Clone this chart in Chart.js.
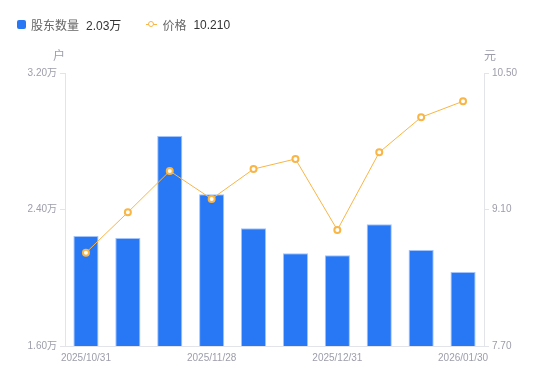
<!DOCTYPE html>
<html lang="zh">
<head>
<meta charset="UTF-8">
<title>股东数量</title>
<script src="https://cdn.jsdelivr.net/npm/chart.js"></script>
<style>
    body { margin: 0; background: #fff; font-family: "Liberation Sans", "Noto Sans CJK SC", sans-serif; }
    .wrap { position: relative; width: 550px; height: 381px; }
    .legend { position: absolute; left: 17px; top: 16px; font-size: 12px; color: #666; display: flex; align-items: center; }
    .legend .item { display: flex; align-items: center; margin-right: 25px; }
    .legend .box { width: 9px; height: 9px; border-radius: 2px; background: #2878f5; margin-right: 5px; }
    .legend .dot { position: relative; width: 11px; height: 9px; margin-right: 5px; }
    .legend .dot:before { content: ""; position: absolute; left: 0; right: 0; top: 4px; height: 1px; background: #f9b545; }
    .legend .dot:after { content: ""; position: absolute; left: 2px; top: 1px; width: 4px; height: 4px; border: 1.5px solid #f9b545; border-radius: 50%; background: #fff; }
    .legend .val { color: #333; margin-left: 7px; }
    canvas { position: absolute; left: 0; top: 0; }
</style>
</head>
<body>
<div class="wrap">
    <canvas id="chart" width="550" height="381"></canvas>
    <div class="legend">
        <div class="item"><span class="box"></span>股东数量<span class="val" id="v1"></span></div>
        <div class="item"><span class="dot"></span>价格<span class="val" id="v2"></span></div>
    </div>
</div>
<script>
    // dates (only every 3rd one is labelled)
    const dates = ["2025/10/31", "2025/11/10", "2025/11/20", "2025/11/28", "2025/12/10",
        "2025/12/19", "2025/12/31", "2026/01/09", "2026/01/20", "2026/01/30"];
    // holders, in 万户
    const holders = [2.245, 2.233, 2.831, 2.489, 2.290, 2.143, 2.132, 2.313, 2.163, 2.034];
    // price, 元
    const price = [8.657, 9.071, 9.495, 9.208, 9.515, 9.618, 8.890, 9.686, 10.046, 10.210];
    const leftTicks = [1.6, 2.4, 3.2];
    const rightTicks = [7.7, 9.1, 10.5];

    document.getElementById("v1").innerText = holders[holders.length - 1].toFixed(2) + "万";
    document.getElementById("v2").innerText = price[price.length - 1].toFixed(3);

    const axisGray = "#e3e3ea";
    const tickGray = "#9d9dab";
    const fontFam = '"Liberation Sans", "Noto Sans CJK SC", sans-serif';

    // unit labels above the two y axes
    const unitTitles = {
        id: "unitTitles",
        afterDraw(chart) {
            const c = chart.ctx;
            c.save();
            c.fillStyle = tickGray;
            c.font = "12px " + fontFam;
            c.textAlign = "center";
            c.textBaseline = "middle";
            c.fillText("户", chart.scales.y.right - 6, 57);
            c.fillText("元", chart.scales.y1.left + 6, 57);
            c.restore();
        }
    };

    new Chart(document.getElementById("chart"), {
        data: {
            labels: dates,
            datasets: [{
                type: "line",
                label: "价格",
                data: price,
                yAxisID: "y1",
                borderColor: "#f9b545",
                borderWidth: 1,
                pointRadius: 3,
                pointBorderWidth: 2,
                pointBackgroundColor: "#fff",
                pointBorderColor: "#f9b545",
                tension: 0,
                order: 0
            }, {
                type: "bar",
                label: "股东数量",
                data: holders,
                yAxisID: "y",
                backgroundColor: "#2878f5",
                borderColor: "#a3c4fa",
                borderWidth: 1,
                barPercentage: 0.6,
                categoryPercentage: 1,
                order: 1
            }]
        },
        options: {
            responsive: false,
            animation: false,
            layout: { padding: { top: 73, left: 0, right: 0, bottom: 0 } },
            plugins: { legend: { display: false }, tooltip: { enabled: false } },
            scales: {
                x: {
                    offset: true,
                    grid: { display: false, drawTicks: false },
                    border: { color: axisGray },
                    afterFit(s) { s.height = 35; },
                    ticks: {
                        autoSkip: false,
                        maxRotation: 0,
                        padding: 6,
                        color: tickGray,
                        font: { size: 10, family: fontFam },
                        callback(v, i) { return i % 3 === 0 ? dates[i] : ""; }
                    }
                },
                y: {
                    position: "left",
                    min: leftTicks[0],
                    max: leftTicks[leftTicks.length - 1],
                    afterBuildTicks(s) { s.ticks = leftTicks.map(v => ({ value: v })); },
                    afterFit(s) { s.width = 65; },
                    grid: { drawOnChartArea: false, tickLength: 5, color: axisGray },
                    border: { color: axisGray },
                    ticks: {
                        padding: 3,
                        color: tickGray,
                        font: { size: 10, family: fontFam },
                        callback(v) { return v.toFixed(2) + "万"; }
                    }
                },
                y1: {
                    position: "right",
                    min: rightTicks[0],
                    max: rightTicks[rightTicks.length - 1],
                    afterBuildTicks(s) { s.ticks = rightTicks.map(v => ({ value: v })); },
                    afterFit(s) { s.width = 66; },
                    grid: { drawOnChartArea: false, tickLength: 5, color: axisGray },
                    border: { color: axisGray },
                    ticks: {
                        padding: 3,
                        color: tickGray,
                        font: { size: 10, family: fontFam },
                        callback(v) { return v.toFixed(2); }
                    }
                }
            }
        },
        plugins: [unitTitles]
    });
</script>
</body>
</html>
